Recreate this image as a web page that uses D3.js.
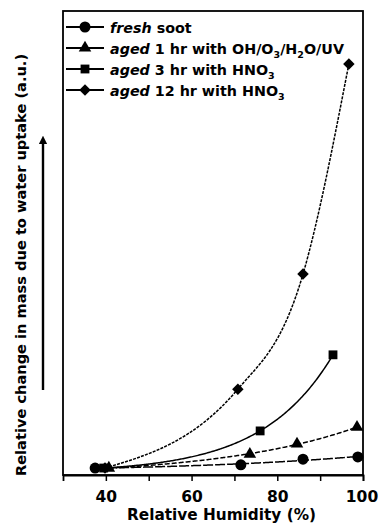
<!DOCTYPE html>
<html><head><meta charset="utf-8">
<script src="https://cdn.jsdelivr.net/npm/d3@7"></script>
<style>
html,body{margin:0;padding:0;background:#fff;}
svg text{font-family:"DejaVu Sans",sans-serif;font-weight:bold;fill:#000;}
</style></head><body>
<svg id="c" width="379" height="523"></svg>
<script>
// Data (RH %, relative mass change a.u.)
const freshRH   = [37.5, 71.5, 86.0, 98.8];
const freshVal  = [1.5, 2.2, 3.4, 3.9];
const aged1RH   = [40.7, 73.6, 84.6, 98.6];
const aged1Val  = [1.5, 4.5, 6.7, 10.3];
const aged3RH   = [39.5, 76.0, 93.0];
const aged3Val  = [1.5, 9.5, 25.9];
const aged12RH  = [39.8, 70.8, 86.0, 96.7];
const aged12Val = [1.5, 18.5, 43.3, 88.6];
const xTicks = [40, 50, 60, 70, 80, 90, 100];
const xTickLabels = ["40", "", "60", "", "80", "", "100"];

const svg = d3.select("#c");
const L = 63, R = 363, T = 11, B = 475;
const x = d3.scaleLinear().domain([30, 100]).range([L, R]);
const y = d3.scaleLinear().domain([0, 100]).range([B, T]);

// frame
svg.append("rect").attr("x", L).attr("y", T).attr("width", R - L).attr("height", B - T)
  .attr("fill", "none").attr("stroke", "#000").attr("stroke-width", 1.8);

// x axis
const xAxis = d3.axisBottom(x).tickValues(xTicks).tickSize(6).tickPadding(10)
  .tickFormat((d, i) => xTickLabels[i]);
const gx = svg.append("g").attr("transform", `translate(0,${B})`).call(xAxis);
gx.select(".domain").attr("stroke-width", 1.8);
gx.selectAll(".tick line").attr("stroke-width", 1.5);
gx.selectAll("text").attr("font-size", 15.5).attr("font-family", "Liberation Sans, Arial, sans-serif").attr("font-weight", "bold");
gx.selectAll(".tick").filter(d => d === 100).select("text").attr("dx", -1.5);

svg.append("text").attr("x", 221.5).attr("y", 520).attr("text-anchor", "middle")
  .attr("font-size", 15.3).text("Relative Humidity (%)");

// y label
svg.append("text").attr("transform", "translate(26,265) rotate(-90)")
  .attr("text-anchor", "middle").attr("font-size", 14.6)
  .text("Relative change in mass due to water uptake (a.u.)");

// arrow
svg.append("defs").append("marker").attr("id", "ah").attr("viewBox", "0 0 10 10")
  .attr("refX", 5).attr("refY", 5).attr("markerWidth", 3.6).attr("markerHeight", 3.6)
  .attr("orient", "auto").append("path").attr("d", "M0,0L10,5L0,10z").attr("fill", "#000");
svg.append("line").attr("x1", 43).attr("x2", 43).attr("y1", 390).attr("y2", 140)
  .attr("stroke", "#000").attr("stroke-width", 2.4).attr("marker-end", "url(#ah)");

const series = [
  {rh: freshRH, v: freshVal, sym: d3.symbolCircle, size: 95, rot: 0, dash: "10,2", fit: true},
  {rh: aged1RH, v: aged1Val, sym: d3.symbolTriangle, size: 68, rot: 0, dash: "5,2", fit: true},
  {rh: aged3RH, v: aged3Val, sym: d3.symbolSquare, size: 78, rot: 0, dash: null, fit: true},
  {rh: aged12RH, v: aged12Val, sym: d3.symbolSquare, size: 66, rot: 45, dash: "3,1.2", fit: false}
];

// exponential trend fit y = a + b*exp(c*(x-x0)), least squares over c
function expFit(xs, ys) {
  const x0 = xs[0];
  let best = null;
  for (let c = 0.001; c <= 0.4; c += 0.0005) {
    const e = xs.map(v => Math.exp(c * (v - x0)));
    const n = xs.length;
    const me = d3.mean(e), my = d3.mean(ys);
    let sxy = 0, sxx = 0;
    for (let i = 0; i < n; i++) { sxy += (e[i] - me) * (ys[i] - my); sxx += (e[i] - me) ** 2; }
    const b = sxy / sxx, a = my - b * me;
    let sse = 0;
    for (let i = 0; i < n; i++) sse += (a + b * e[i] - ys[i]) ** 2;
    if (!best || sse < best.sse) best = {a, b, c, sse};
  }
  return v => best.a + best.b * Math.exp(best.c * (v - x0));
}

const line = d3.line().x(d => x(d[0])).y(d => y(d[1]));
const smooth = d3.line().x(d => x(d[0])).y(d => y(d[1])).curve(d3.curveMonotoneX);
series.forEach(s => {
  let dPath;
  if (s.fit) {
    const f = expFit(s.rh, s.v);
    const xs = d3.range(s.rh[0], s.rh[s.rh.length - 1], 0.25).concat([s.rh[s.rh.length - 1]]);
    dPath = line(xs.map(v => [v, f(v)]));
  } else {
    dPath = smooth(s.rh.map((r, i) => [r, s.v[i]]));
  }
  svg.append("path").attr("d", dPath).attr("fill", "none").attr("stroke", "#000")
    .attr("stroke-width", 1.5).attr("stroke-dasharray", s.dash);
});
series.slice().reverse().forEach(s => {
  const pts = s.rh.map((r, i) => [r, s.v[i]]);
  svg.selectAll(null).data(pts).enter().append("path")
    .attr("d", d3.symbol().type(s.sym).size(s.size))
    .attr("transform", d => `translate(${x(d[0])},${y(d[1])}) rotate(${s.rot})`).attr("fill", "#000");
});

// legend
const legY = [27, 48, 69, 90];
const leg = svg.append("g");
series.forEach((s, i) => {
  leg.append("line").attr("x1", 66).attr("x2", 104).attr("y1", legY[i]).attr("y2", legY[i])
    .attr("stroke", "#000").attr("stroke-width", 1.8);
  leg.append("path").attr("d", d3.symbol().type(s.sym).size(s.size))
    .attr("transform", `translate(85,${legY[i]}) rotate(${s.rot})`).attr("fill", "#000");
});
function addText(i, parts) {
  const t = leg.append("text").attr("x", 110).attr("y", legY[i] + 5.5).attr("font-size", 14.3);
  parts.forEach(p => {
    const ts = t.append("tspan").text(p.t);
    if (p.it) ts.attr("font-style", "italic");
    if (p.sub) ts.attr("font-size", 9.5).attr("dy", 4);
    if (p.after) ts.attr("dy", -4);
  });
}
addText(0, [{t: "fresh", it: true}, {t: " soot"}]);
addText(1, [{t: "aged", it: true}, {t: " 1 hr with OH/O"}, {t: "3", sub: true}, {t: "/H", after: true}, {t: "2", sub: true}, {t: "O/UV", after: true}]);
addText(2, [{t: "aged", it: true}, {t: " 3 hr with HNO"}, {t: "3", sub: true}]);
addText(3, [{t: "aged", it: true}, {t: " 12 hr with HNO"}, {t: "3", sub: true}]);
</script></body></html>
